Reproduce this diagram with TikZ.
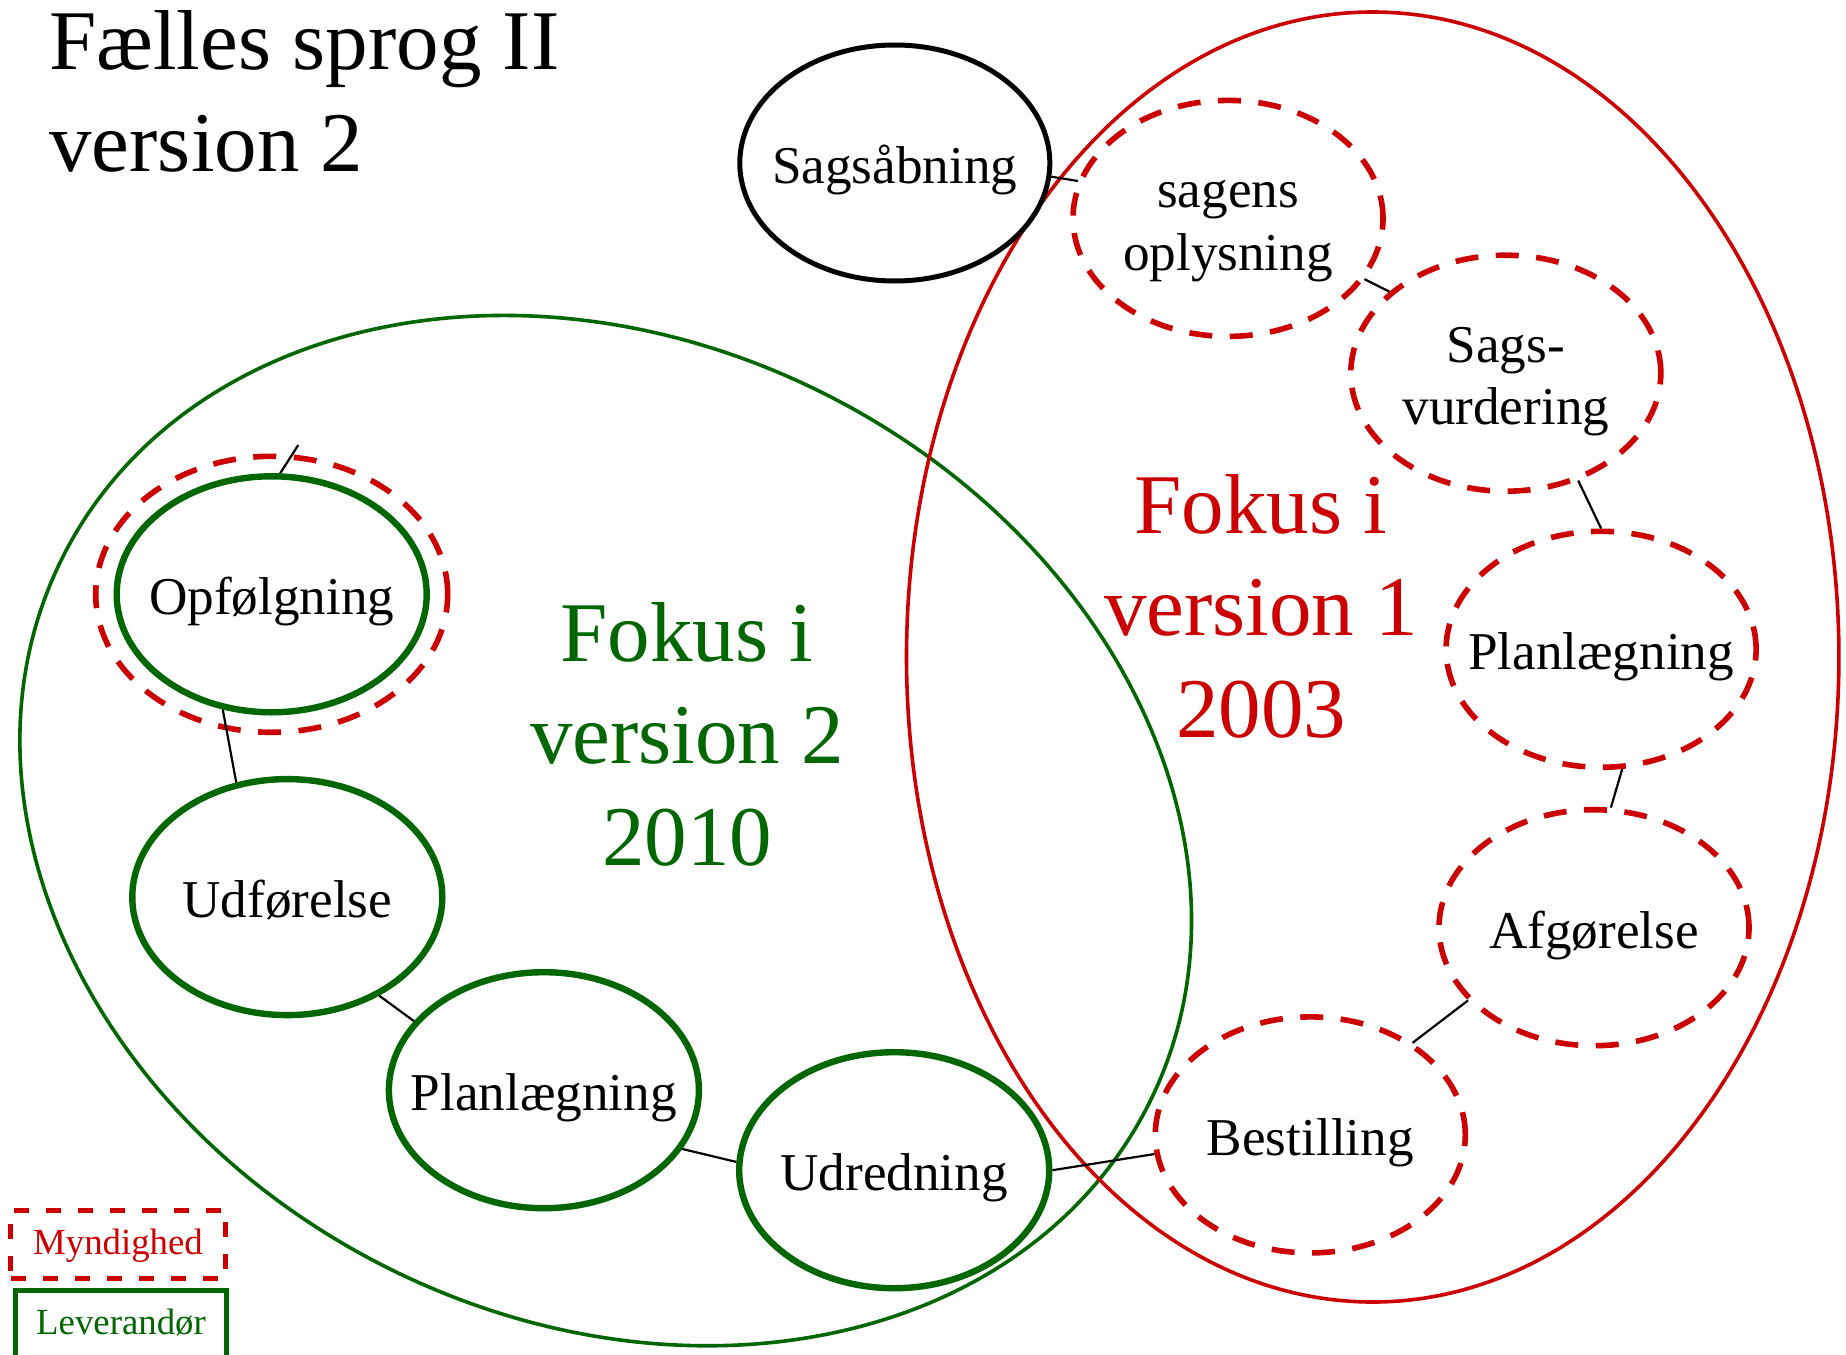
\documentclass[tikz,border=0pt]{standalone}
\usepackage{fontspec}
\setmainfont{Liberation Serif}
\usepackage{tikz}
\usetikzlibrary{shapes.geometric}

\definecolor{myndred}{RGB}{204,0,0}
\definecolor{levgreen}{RGB}{0,102,0}

\newcommand{\fasetekst}[1]{\makebox[0pt]{\raisebox{-4pt}[\height][\depth]{\begin{tabular}{@{}c@{}}#1\end{tabular}}}}

\tikzset{
  fase/.style={ellipse, minimum width=155pt, minimum height=118pt, inner sep=0pt, font=\fontsize{26.6}{31.2}\selectfont},
  myndighed/.style={fase, draw=myndred, line width=2.8pt, dash pattern=on 11.5pt off 8.75pt},
  leverandor/.style={fase, draw=levgreen, line width=3.2pt},
  aabning/.style={fase, draw=black, line width=2.5pt},
  forbindelse/.style={line width=1.1pt},
  fokus/.style={align=center, inner sep=0pt, font=\fontsize{42.5}{51}\selectfont},
  forklaring/.style={rectangle, anchor=north, inner xsep=0pt, inner ysep=8.25pt, text height=14pt, line width=2.5pt, font=\fontsize{18.4}{22}\selectfont}
}

\begin{document}
\begin{tikzpicture}[x=0.5pt,y=0.5pt,yscale=-1,xscale=1]
\path[use as bounding box] (0,0) rectangle (1846,1354);
\clip (0,0) rectangle (1846,1354);

%Shape: Ellipse (version 2)
\draw [draw=levgreen, line width=1.8pt, rotate around={26.8:(605.7,830.6)}] (605.7,830.6) ellipse [x radius=608, y radius=488.6];
%Shape: Ellipse (version 1)
\draw [draw=myndred, line width=1.8pt] (1372.7,657) ellipse [x radius=466.2, y radius=645];

%Shape: Ellipse
\node[aabning] (sagsab) at (894.8,163) {\fasetekst{Sagsåbning}};
\node[myndighed] (oplys) at (1228,218.4) {\fasetekst{sagens\\oplysning}};
\node[myndighed] (vurd) at (1505.8,373.2) {\fasetekst{Sags-\\vurdering}};
\node[myndighed] (planm) at (1601.1,649.3) {\fasetekst{Planlægning}};
\node[myndighed] (afg) at (1594,927.7) {\fasetekst{Afgørelse}};
\node[myndighed] (best) at (1310.3,1134.9) {\fasetekst{Bestilling}};
\node[leverandor] (udred) at (894.2,1170.2) {\fasetekst{Udredning}};
\node[leverandor] (planl) at (543.9,1090.2) {\fasetekst{Planlægning}};
\node[leverandor] (udf) at (287.3,897.1) {\fasetekst{Udførelse}};
\node[leverandor] (opf) at (271.7,594.3) {\fasetekst{Opfølgning}};
\node[myndighed, minimum width=176pt, minimum height=138pt] (opfm) at (271.7,594.3) {};

%Straight Lines
\draw[forbindelse] (sagsab.-5.8) -- (oplys.166.7);
\draw[forbindelse] (oplys.-24.4) -- (vurd.145.8);
\draw[forbindelse] (vurd.-56.4) -- (planm.90);
\draw[forbindelse] (planm.-80.3) -- (afg.82.8);
\draw[forbindelse] (afg.210) -- (best.42.7);
\draw[forbindelse] (best.187) -- (udred.-0.9);
\draw[forbindelse] (udred.177.4) -- (planl.-23.4);
\draw[forbindelse] (planl.152.6) -- (udf.-47.2);
\draw[forbindelse] (udf.114.4) -- (opf.-113.6);
\coordinate (opfende) at (298.3,445);
\draw[forbindelse] (opf.86.5) -- (opfende);

%Text
\node[fokus, align=left, anchor=west] (titel) at (49,91) {Fælles sprog II\\version 2};
\node[fokus, text=levgreen] (fokus2) at (687,734) {Fokus i\\version 2\\2010};
\node[fokus, text=myndred] (fokus1) at (1261,606) {Fokus i\\version 1\\2003};

%Legend
\node[forklaring, draw=myndred, text=myndred, dash pattern=on 7.5pt off 8.5pt, minimum width=107.5pt, text depth=3.5pt] (myndig) at (118,1207.5) {Myndighed};
\node[forklaring, draw=levgreen, text=levgreen, minimum width=105.5pt, text depth=18pt] (leveran) at (121,1287.5) {Leverandør};

\end{tikzpicture}
\end{document}
